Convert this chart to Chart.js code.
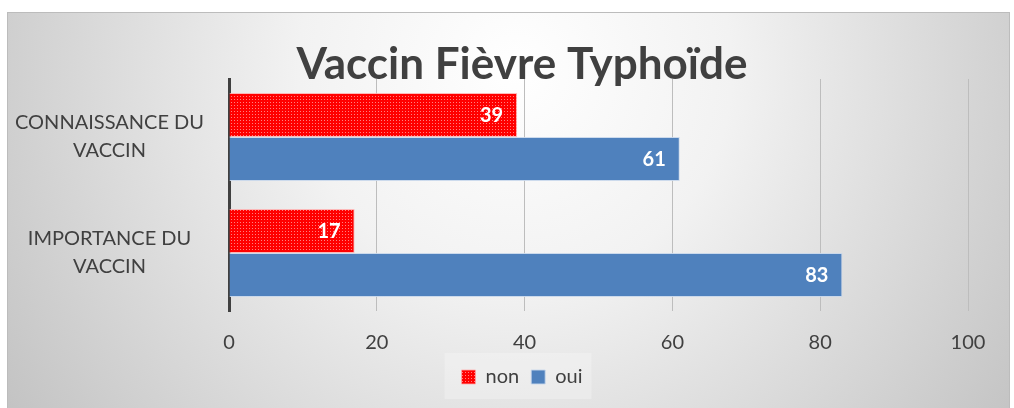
<!DOCTYPE html>
<html>
<head>
<meta charset="utf-8">
<script src="https://cdn.jsdelivr.net/npm/chart.js@4.4.1/dist/chart.umd.min.js"></script>
<style>
  html, body { margin: 0; padding: 0; background: #fff; }
  #wrap { width: 1014px; height: 408px; }
</style>
</head>
<body>
<div id="wrap"><canvas id="chart" width="1014" height="408"></canvas></div>
<script>
// data
const categories = [['CONNAISSANCE DU', 'VACCIN'], ['IMPORTANCE DU', 'VACCIN']];
const nonValues = [39, 17];
const ouiValues = [61, 83];
const seriesNames = ['non', 'oui'];
const xMin = 0, xMax = 100, xStep = 20;

const FONT = "Lato, 'Open Sans', sans-serif";
const TEXT = '#404040';

// small dotted red pattern like the office "dotted" fill
function makePattern() {
    const c = document.createElement('canvas');
    c.width = 3; c.height = 3;
    const g = c.getContext('2d');
    g.fillStyle = '#ff0000';
    g.fillRect(0, 0, 3, 3);
    g.fillStyle = '#ff8080';
    g.fillRect(0, 0, 1, 1);
    return g.createPattern(c, 'repeat');
}
const redFill = makePattern();

const backgroundPlugin = {
    id: 'frameBg',
    beforeDraw(chart) {
        const ctx = chart.ctx;
        ctx.save();
        const grad = ctx.createRadialGradient(515, 70, 0, 515, 70, 620);
        grad.addColorStop(0, '#ffffff');
        grad.addColorStop(0.35, '#f2f2f2');
        grad.addColorStop(1, '#c2c2c2');
        ctx.fillStyle = grad;
        ctx.fillRect(7, 12, 1003, 396);
        ctx.strokeStyle = '#bcbcbc';
        ctx.lineWidth = 1;
        ctx.strokeRect(7.5, 12.5, 1002, 400);
        // faint box behind the legend
        const lg = chart.legend;
        if (lg && lg.legendHitBoxes && lg.legendHitBoxes.length) {
            const first = lg.legendHitBoxes[0];
            const last = lg.legendHitBoxes[lg.legendHitBoxes.length - 1];
            const x0 = first.left - 17;
            const x1 = last.left + last.width + 9;
            ctx.fillStyle = 'rgba(255,255,255,0.25)';
            ctx.fillRect(x0, 353, x1 - x0, 46);
        }
        ctx.restore();
    }
};

const valueLabels = {
    id: 'valueLabels',
    afterDatasetsDraw(chart) {
        const ctx = chart.ctx;
        ctx.save();
        ctx.font = 'bold 20px ' + FONT;
        ctx.fillStyle = '#ffffff';
        ctx.textAlign = 'right';
        ctx.textBaseline = 'middle';
        chart.data.datasets.forEach((ds, i) => {
            chart.getDatasetMeta(i).data.forEach((bar, j) => {
                ctx.fillText(ds.data[j], bar.x - 14, bar.y + 1);
            });
        });
        ctx.restore();
    }
};

new Chart(document.getElementById('chart').getContext('2d'), {
    type: 'bar',
    data: {
        labels: categories,
        datasets: [{
            label: seriesNames[0],
            data: nonValues,
            backgroundColor: redFill,
            borderColor: 'rgba(255,170,170,0.8)',
            borderWidth: 1,
            categoryPercentage: 0.76,
            barPercentage: 1
        }, {
            label: seriesNames[1],
            data: ouiValues,
            backgroundColor: '#4f81bd',
            borderColor: 'rgba(200,215,235,0.9)',
            borderWidth: 1,
            categoryPercentage: 0.76,
            barPercentage: 1
        }]
    },
    options: {
        indexAxis: 'y',
        responsive: false,
        devicePixelRatio: 1,
        animation: false,
        layout: { padding: { left: 8, right: -22, top: 12, bottom: 11 } },
        scales: {
            x: {
                min: xMin,
                max: xMax,
                ticks: { stepSize: xStep, color: TEXT, font: { family: FONT, size: 20 }, padding: 20 },
                grid: { color: '#bdbdbd', lineWidth: 1, drawTicks: false },
                border: { display: false },
                afterFit(scale) { scale.height = 44; }
            },
            y: {
                ticks: { color: TEXT, font: { family: FONT, size: 20, lineHeight: 1.4 }, padding: 25, crossAlign: 'center' },
                grid: { display: false, drawTicks: false },
                border: { display: true, color: '#404040', width: 3 },
                afterFit(scale) { scale.width = 221; }
            },
            yr: {
                position: 'right',
                display: true,
                ticks: { display: false },
                grid: { display: false, drawTicks: false },
                border: { display: false },
                afterFit(scale) { scale.width = 68; }
            }
        },
        plugins: {
            title: {
                display: true,
                text: 'Vaccin Fièvre Typhoïde',
                color: TEXT,
                font: { family: FONT, size: 44, weight: 'bold', lineHeight: 1 },
                padding: { top: 31, bottom: -8 }
            },
            legend: {
                position: 'bottom',
                labels: {
                    color: TEXT,
                    font: { family: FONT, size: 20 },
                    boxWidth: 14,
                    boxHeight: 14,
                    padding: 12
                }
            },
            tooltip: { enabled: false }
        }
    },
    plugins: [backgroundPlugin, valueLabels]
});
</script>
</body>
</html>
